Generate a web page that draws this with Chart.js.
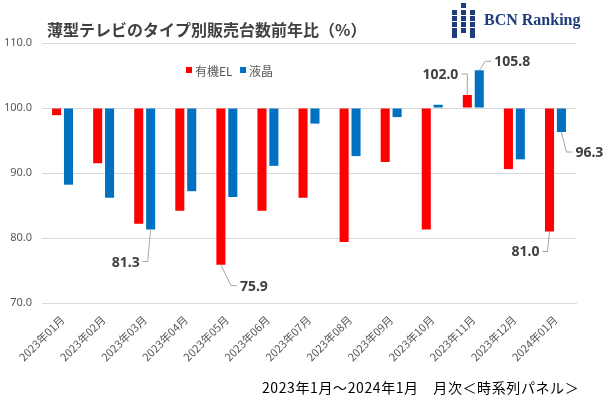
<!DOCTYPE html>
<html>
<head>
<meta charset="utf-8">
<script src="https://cdn.jsdelivr.net/npm/chart.js@4/dist/chart.umd.min.js"></script>
<style>
  html, body { margin: 0; padding: 0; background: #fff; }
  #wrap { width: 608px; height: 398px; position: relative; }
</style>
</head>
<body>
<div id="wrap"><canvas id="tvChart" width="608" height="398"></canvas></div>
<script>
// Data: year-on-year unit sales ratio by TV type (%)
const months = ['2023年01月', '2023年02月', '2023年03月', '2023年04月', '2023年05月', '2023年06月',
  '2023年07月', '2023年08月', '2023年09月', '2023年10月', '2023年11月', '2023年12月', '2024年01月'];
const oled = [98.9, 91.5, 82.2, 84.2, 75.9, 84.2, 86.2, 79.4, 91.7, 81.3, 102.0, 90.6, 81.0];
const lcd = [88.2, 86.2, 81.3, 87.2, 86.3, 91.1, 97.6, 92.6, 98.6, 100.5, 105.8, 92.1, 96.3];
const yTicks = [70, 80, 90, 100, 110];

const titleText = '薄型テレビのタイプ別販売台数前年比（%）';
const footerText = '2023年1月～2024年1月　月次＜時系列パネル＞';

// which bars get a value callout, and where the callout text sits (px offsets from bar end)
const callouts = [
  { ds: 1, i: 2, pts: [[-3, 32], [-8, 32]], align: 'right' },
  { ds: 0, i: 4, pts: [[10, 21], [16, 21]], align: 'left' },
  { ds: 0, i: 10, pts: [[0, -21], [-6, -21]], align: 'right' },
  { ds: 1, i: 10, pts: [[6, -9], [12, -9]], align: 'left' },
  { ds: 0, i: 12, pts: [[-2, 20], [-7, 20]], align: 'right' },
  { ds: 1, i: 12, pts: [[5, 20], [11, 20]], align: 'left' }
];

const RED = '#ff0000';
const BLUE = '#0070c0';
const GRID = '#d9d9d9';
const TXT = '#595959';

const decorPlugin = {
  id: 'decor',
  afterDraw(chart) {
    const ctx = chart.ctx;
    ctx.save();

    // title
    ctx.fillStyle = '#404040';
    ctx.font = 'bold 16px "Noto Sans CJK JP"';
    ctx.textBaseline = 'middle';
    ctx.textAlign = 'left';
    ctx.fillText(titleText, 47, 30);

    // logo squares
    ctx.fillStyle = '#1f3d78';
    const cols = [452, 461, 470];
    const rows = [
      [3, [1]], [10, [0, 1, 2]], [16, [0, 1, 2]], [22, [0, 1, 2]], [28, [0, 1, 2]], [33, [0, 2]]
    ];
    rows.forEach(([y, cs]) => cs.forEach(c => ctx.fillRect(cols[c], y, 5, 5)));
    ctx.font = 'bold 16px "Liberation Serif"';
    ctx.fillText('BCN Ranking', 484, 21);

    // legend
    ctx.font = '12px "Noto Sans CJK JP"';
    ctx.fillStyle = RED;
    ctx.fillRect(186, 67, 6, 6);
    ctx.fillStyle = TXT;
    ctx.fillText('有機EL', 195, 71);
    ctx.fillStyle = BLUE;
    ctx.fillRect(240, 67, 6, 6);
    ctx.fillStyle = TXT;
    ctx.fillText('液晶', 249, 71);

    // value callouts with leader lines
    ctx.font = 'bold 14px "Noto Sans"';
    callouts.forEach(c => {
      const bar = chart.getDatasetMeta(c.ds).data[c.i];
      const v = chart.data.datasets[c.ds].data[c.i];
      const x0 = bar.x, y0 = bar.y;
      ctx.strokeStyle = '#a6a6a6';
      ctx.lineWidth = 1;
      ctx.beginPath();
      ctx.moveTo(x0, y0);
      c.pts.forEach(([dx, dy]) => ctx.lineTo(x0 + dx, y0 + dy));
      ctx.stroke();
      const last = c.pts[c.pts.length - 1];
      ctx.fillStyle = '#404040';
      ctx.textAlign = c.align;
      const tx = x0 + last[0] + (c.align === 'left' ? 3 : -3);
      ctx.fillText(v.toFixed(1), tx, y0 + last[1] + 1);
    });

    // footer
    ctx.textAlign = 'left';
    ctx.fillStyle = '#000';
    ctx.font = '14px "Noto Sans CJK JP"';
    ctx.letterSpacing = '0.6px';
    ctx.fillText(footerText, 262, 388);
    ctx.restore();
  }
};

const chart = new Chart(document.getElementById('tvChart').getContext('2d'), {
  type: 'bar',
  data: {
    labels: months,
    datasets: [
      { label: '有機EL', data: oled, base: 100, backgroundColor: RED },
      { label: '液晶', data: lcd, base: 100, backgroundColor: BLUE }
    ]
  },
  options: {
    responsive: false,
    animation: false,
    layout: { padding: { top: 43, right: 32, left: 0, bottom: 0 } },
    datasets: { bar: { categoryPercentage: 0.58, barPercentage: 0.76 } },
    plugins: { legend: { display: false }, tooltip: { enabled: false } },
    scales: {
      x: {
        grid: { display: false },
        border: { color: GRID },
        ticks: {
          color: TXT, minRotation: 45, maxRotation: 45, padding: 2,
          font: { family: '"Noto Sans CJK JP"', size: 11 }
        },
        afterFit(axis) { axis.height = 95; }
      },
      y: {
        min: 70, max: 110,
        afterBuildTicks(axis) { axis.ticks = yTicks.map(v => ({ value: v })); },
        grid: { color: GRID, drawTicks: false },
        border: { display: false },
        ticks: {
          color: TXT, padding: 10,
          font: { family: '"Noto Sans"', size: 11 },
          callback: v => v.toFixed(1)
        },
        afterFit(axis) { axis.width = 42; }
      }
    }
  },
  plugins: [decorPlugin]
});
</script>
</body>
</html>
